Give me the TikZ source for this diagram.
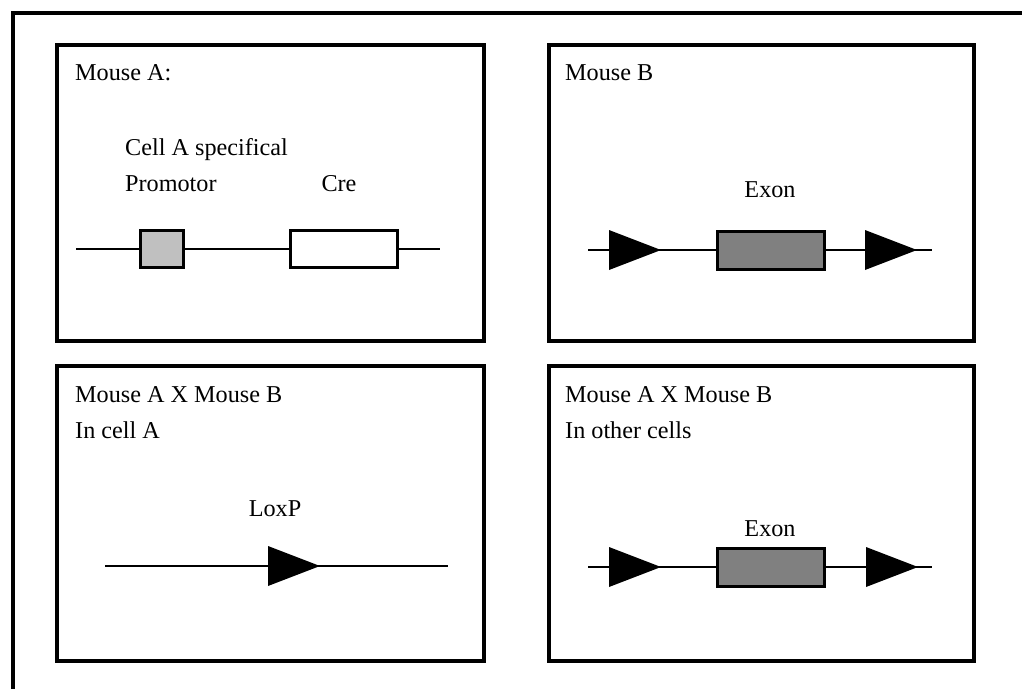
\documentclass[tikz,border=0pt]{standalone}
\usepackage{fontspec}
\setmainfont{Liberation Serif}
\definecolor{promgray}{HTML}{C0C0C0}
\definecolor{exongray}{HTML}{808080}
\begin{document}
\begin{tikzpicture}[x=1pt,y=-1pt,
  panel/.style={draw, line width=3.5pt, inner sep=0pt, anchor=north west},
  label/.style={anchor=base west, inner sep=0pt, font=\fontsize{24.2}{29}\selectfont},
  ctext/.style={anchor=base, inner sep=0pt, font=\fontsize{24.2}{29}\selectfont},
  gene/.style={line width=2.6pt},
  segment/.style={draw, line width=3pt, inner sep=0pt},
  loxp/.pic={\fill (0,-20) -- (52,0) -- (0,20) -- cycle;}]
\useasboundingbox (0,0) rectangle (1022,689);

% outer frame
\draw[line width=4pt] (1022,13) -- (13,13) -- (13,689);

% four panels
\node[panel, minimum width=427pt, minimum height=296pt] (pA) at (55,43) {};
\node[panel, minimum width=425pt, minimum height=296pt] (pB) at (547,43) {};
\node[panel, minimum width=427pt, minimum height=295pt] (pC) at (55,364) {};
\node[panel, minimum width=425pt, minimum height=295pt] (pD) at (547,364) {};

% Mouse A
\node[label] (tA) at (75,80) {Mouse A:};
\node[label] (tA1) at (125,155) {Cell A specifical};
\node[label] (tA2) at (125,191) {Promotor};
\node[ctext] (tA3) at (339,191) {Cre};
\coordinate (a0) at (76,249);
\coordinate (a1) at (440,249);
\node[segment, fill=promgray, minimum width=43pt, minimum height=37pt] (prom) at (161.5,249) {};
\node[segment, fill=white, minimum width=107pt, minimum height=37pt] (cre) at (343.5,249) {};
\draw[gene] (a0) -- (prom) (prom) -- (cre) (cre) -- (a1);

% Mouse B
\node[label] (tB) at (565,80) {Mouse B};
\node[ctext] (tB1) at (770,197) {Exon};
\coordinate (b0) at (588,250);
\coordinate (b1) at (932,250);
\node[segment, fill=exongray, minimum width=107pt, minimum height=38pt] (exB) at (770.5,250) {};
\draw[gene] (b0) -- (exB) (exB) -- (b1);
\pic at (609,250) {loxp};
\pic at (865,250) {loxp};

% Mouse A x Mouse B, cell A
\node[label] (tC) at (75,402) {Mouse A X Mouse B};
\node[label] (tC1) at (75,438) {In cell A};
\node[ctext] (tC2) at (275,516) {LoxP};
\coordinate (c0) at (105,566);
\coordinate (c1) at (448,566);
\draw[gene] (c0) -- (c1);
\pic at (268,566) {loxp};

% Mouse A x Mouse B, other cells
\node[label] (tD) at (565,402) {Mouse A X Mouse B};
\node[label] (tD1) at (565,438) {In other cells};
\node[ctext] (tD2) at (770,536) {Exon};
\coordinate (d0) at (588,567);
\coordinate (d1) at (932,567);
\node[segment, fill=exongray, minimum width=107pt, minimum height=38pt] (exD) at (770.5,567) {};
\draw[gene] (d0) -- (exD) (exD) -- (d1);
\pic at (609,567) {loxp};
\pic at (866,567) {loxp};
\end{tikzpicture}
\end{document}
